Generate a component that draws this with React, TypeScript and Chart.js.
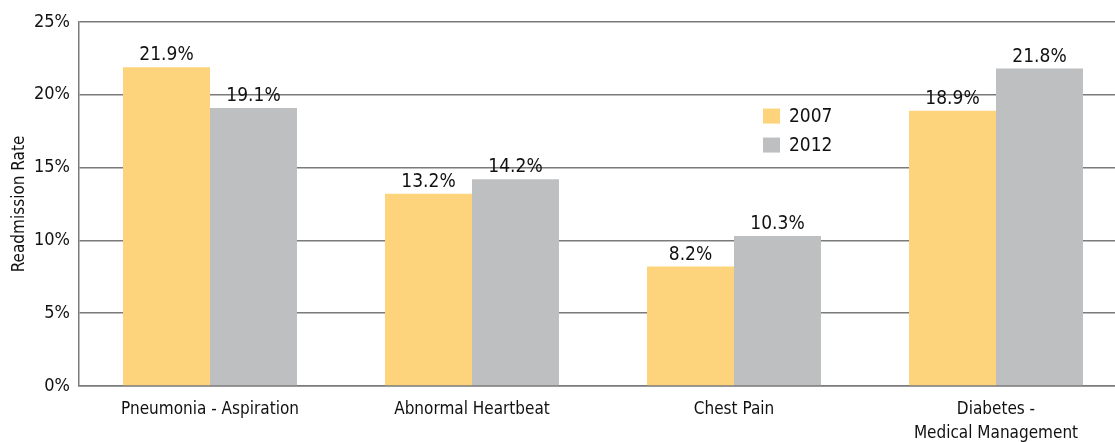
import React, { useEffect, useRef } from "react";
import { Chart, registerables } from "chart.js";

Chart.register(...registerables);

const categories: (string | string[])[] = [
  "Pneumonia - Aspiration",
  "Abnormal Heartbeat",
  "Chest Pain",
  ["Diabetes -", "Medical Management"],
];
const values2007 = [21.9, 13.2, 8.2, 18.9];
const values2012 = [19.1, 14.2, 10.3, 21.8];
const seriesLabels = ["2007", "2012"];
const yTicks = [0, 5, 10, 15, 20, 25];

const FONT = "'Liberation Sans Narrow', 'DejaVu Sans Condensed', 'Roboto Condensed', sans-serif";
const YELLOW = "#FDD37B";
const GRAY = "#BEBFC1";

const labelsPlugin = {
  id: "valueLabels",
  afterDatasetsDraw(chart: any) {
    const ctx = chart.ctx;
    ctx.save();
    ctx.font = `19px ${FONT}`;
    ctx.fillStyle = "#111";
    ctx.textAlign = "center";
    ctx.textBaseline = "alphabetic";
    chart.data.datasets.forEach((ds: any, i: number) => {
      const meta = chart.getDatasetMeta(i);
      meta.data.forEach((bar: any, j: number) => {
        ctx.fillText(ds.data[j].toFixed(1) + "%", bar.x, bar.y - 7);
      });
    });
    ctx.restore();
  },
};

const legendPlugin = {
  id: "innerLegend",
  afterDraw(chart: any) {
    const ctx = chart.ctx;
    const x = chart.scales.x.getPixelForValue(2) + 29;
    const y0 = chart.scales.y.getPixelForValue(18.54);
    ctx.save();
    ctx.font = `19px ${FONT}`;
    ctx.textBaseline = "middle";
    ctx.textAlign = "left";
    chart.data.datasets.forEach((ds: any, i: number) => {
      const y = y0 + i * 29;
      ctx.fillStyle = ds.backgroundColor;
      ctx.fillRect(x, y - 7.5, 17, 15);
      ctx.fillStyle = "#111";
      ctx.fillText(ds.label, x + 26, y + 1);
    });
    ctx.restore();
  },
};

export default function App() {
  const ref = useRef<HTMLCanvasElement>(null);
  useEffect(() => {
    document.body.style.margin = "0";
    const chart = new Chart(ref.current!, {
      type: "bar",
      data: {
        labels: categories,
        datasets: [
          { label: seriesLabels[0], data: values2007, backgroundColor: YELLOW, categoryPercentage: 0.664, barPercentage: 1 },
          { label: seriesLabels[1], data: values2012, backgroundColor: GRAY, categoryPercentage: 0.664, barPercentage: 1 },
        ],
      },
      options: {
        animation: false,
        responsive: false,
        maintainAspectRatio: false,
        layout: { padding: { top: 22, right: 0, left: 9, bottom: 0 } },
        plugins: { legend: { display: false }, tooltip: { enabled: false } },
        scales: {
          x: {
            grid: { display: false, drawTicks: false },
            border: { color: "#7a7a7a", width: 1.5 },
            ticks: { color: "#111", font: { family: FONT, size: 17, lineHeight: 1.45 }, padding: 11, maxRotation: 0, autoSkip: false },
            afterFit: (s: any) => { s.height = 56; },
          },
          y: {
            min: 0,
            max: 25,
            afterBuildTicks: (s: any) => { s.ticks = yTicks.map((v) => ({ value: v })); },
            grid: { color: "#7a7a7a", lineWidth: 1.5, drawTicks: false },
            border: { color: "#7a7a7a", width: 1.5 },
            ticks: { color: "#111", font: { family: FONT, size: 18 }, padding: 9, callback: (v: any) => v + "%" },
            title: { display: true, text: "Readmission Rate", color: "#111", font: { family: FONT, size: 17 }, padding: { top: 0, bottom: 4 } },
            afterFit: (s: any) => { s.width = 70; },
          },
        },
      },
      plugins: [labelsPlugin, legendPlugin],
    });
    return () => chart.destroy();
  }, []);
  return (
    <div style={{ position: "fixed", left: 0, top: 0, width: 1115, height: 442, overflow: "hidden" }}>
      <canvas ref={ref} width={1127} height={442} style={{ width: 1127, height: 442, display: "block" }} />
    </div>
  );
}
